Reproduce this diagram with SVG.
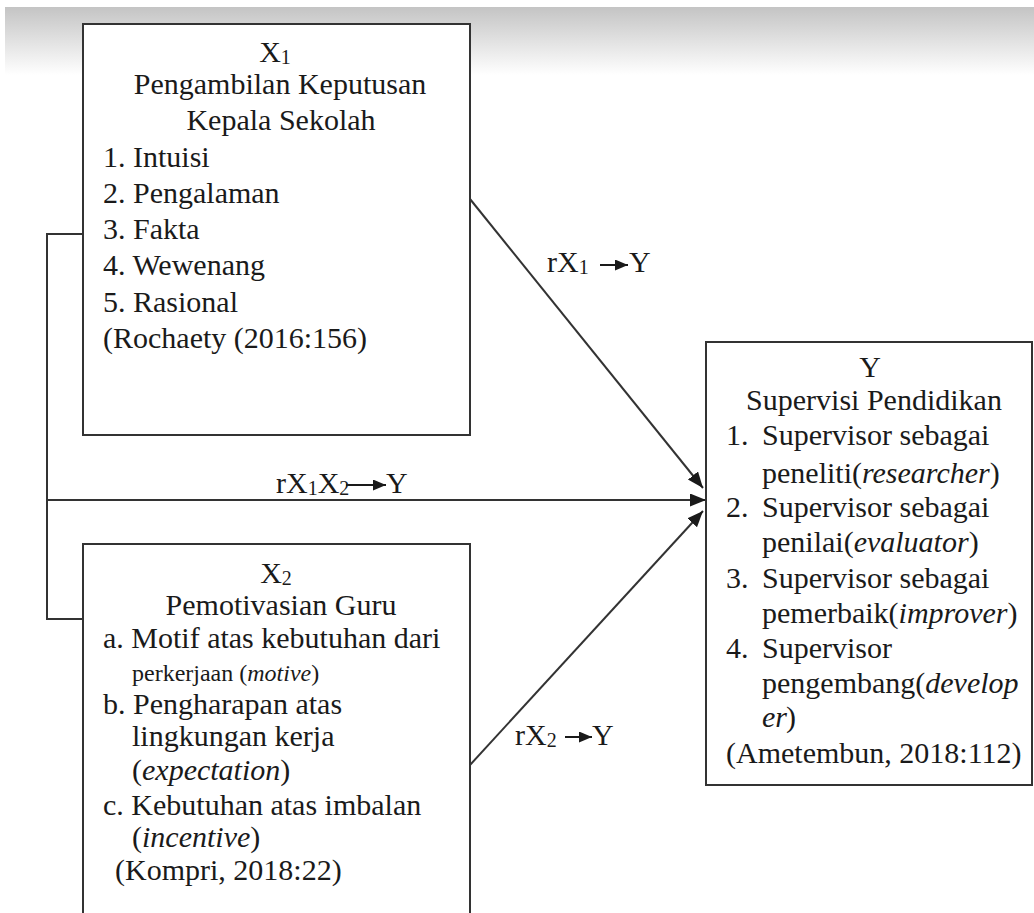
<svg xmlns="http://www.w3.org/2000/svg" width="1034" height="913" viewBox="0 0 1034 913">
<defs>
<linearGradient id="topfade" x1="0" y1="0" x2="0" y2="1">
<stop offset="0" stop-color="#c4c4c4"/>
<stop offset="1" stop-color="#ffffff"/>
</linearGradient>
<marker id="head" markerUnits="userSpaceOnUse" markerWidth="18" markerHeight="14" refX="16" refY="6.5" orient="auto">
<path d="M0,0 L16,6.5 L0,13 z" fill="#1a1a1a"/>
</marker>
<marker id="shead" markerUnits="userSpaceOnUse" markerWidth="14" markerHeight="12" refX="13" refY="5.5" orient="auto">
<path d="M0,0 L13,5.5 L0,11 z" fill="#1a1a1a"/>
</marker>
<style>
.box{fill:#fff;stroke:#333;stroke-width:2}
.t{font-family:'Liberation Serif','DejaVu Serif',serif;font-size:30px;fill:#1a1a1a}
.s{font-family:'Liberation Serif','DejaVu Serif',serif;font-size:24px;fill:#1a1a1a}
.c{text-anchor:middle}
.sub{font-size:20px}
.i{font-style:italic}
.ln{fill:none;stroke:#333;stroke-width:2}
.arr{fill:none;stroke:#333;stroke-width:2;marker-end:url(#head)}
.sarr{fill:none;stroke:#1a1a1a;stroke-width:2;marker-end:url(#shead)}
</style>
</defs>
<rect x="0" y="0" width="1034" height="913" fill="#fff"/>
<rect x="5" y="7" width="1029" height="68" fill="url(#topfade)"/>

<g id="connectors">
<polyline class="ln" points="83,234 47,234 47,619 83,619"/>
<line class="arr" x1="47" y1="500" x2="706" y2="500"/>
<line class="arr" x1="470" y1="199" x2="703" y2="488"/>
<line class="arr" x1="470" y1="765" x2="703" y2="511"/>
</g>

<g font-family="Liberation Serif, DejaVu Serif, serif">
<g id="label-x1y">
<text class="t" x="547" y="272">rX<tspan class="sub" dy="2">1</tspan></text>
<line class="sarr" x1="600" y1="265" x2="628" y2="265"/>
<text class="t" x="629" y="272">Y</text>
</g>
<g id="label-x1x2y">
<text class="t" x="276" y="493">rX<tspan class="sub" dy="2">1</tspan><tspan dy="-2">X</tspan><tspan class="sub" dy="2">2</tspan></text>
<line class="sarr" x1="346" y1="485" x2="386" y2="485"/>
<text class="t" x="386" y="493">Y</text>
</g>
<g id="label-x2y">
<text class="t" x="515" y="745">rX<tspan class="sub" dy="2">2</tspan></text>
<line class="sarr" x1="565" y1="737" x2="592" y2="737"/>
<text class="t" x="592" y="745">Y</text>
</g>

<g id="node-x1">
<rect class="box" x="83" y="24" width="387" height="411"/>
<text class="t c" x="275" y="62">X<tspan class="sub" dy="2">1</tspan></text>
<text class="t c" x="280" y="94">Pengambilan Keputusan</text>
<text class="t c" x="281" y="130">Kepala Sekolah</text>
<text class="t" x="103" y="167">1. Intuisi</text>
<text class="t" x="103" y="203">2. Pengalaman</text>
<text class="t" x="103" y="239">3. Fakta</text>
<text class="t" x="103" y="275">4. Wewenang</text>
<text class="t" x="103" y="312">5. Rasional</text>
<text class="t" x="103" y="348">(Rochaety (2016:156)</text>
</g>

<g id="node-x2">
<rect class="box" x="83" y="544" width="387" height="400"/>
<text class="t c" x="276" y="583">X<tspan class="sub" dy="2">2</tspan></text>
<text class="t c" x="281" y="615">Pemotivasian Guru</text>
<text class="t" x="103" y="648">a. Motif atas kebutuhan dari</text>
<text class="s" x="132" y="681">perkerjaan (<tspan class="i">motive</tspan>)</text>
<text class="t" x="103" y="714">b. Pengharapan atas</text>
<text class="t" x="132" y="746">lingkungan kerja</text>
<text class="t" x="132" y="780">(<tspan class="i">expectation</tspan>)</text>
<text class="t" x="103" y="815">c. Kebutuhan atas imbalan</text>
<text class="t" x="132" y="847">(<tspan class="i">incentive</tspan>)</text>
<text class="t" x="115" y="880">(Kompri, 2018:22)</text>
</g>

<g id="node-y">
<rect class="box" x="706" y="342" width="326" height="443"/>
<text class="t c" x="870" y="377">Y</text>
<text class="t c" x="874" y="410">Supervisi Pendidikan</text>
<text class="t" x="726" y="445">1.</text>
<text class="t" x="762" y="445">Supervisor sebagai</text>
<text class="t" x="762" y="483">peneliti(<tspan class="i">researcher</tspan>)</text>
<text class="t" x="726" y="517">2.</text>
<text class="t" x="762" y="517">Supervisor sebagai</text>
<text class="t" x="762" y="552">penilai(<tspan class="i">evaluator</tspan>)</text>
<text class="t" x="726" y="588">3.</text>
<text class="t" x="762" y="588">Supervisor sebagai</text>
<text class="t" x="762" y="623">pemerbaik(<tspan class="i">improver</tspan>)</text>
<text class="t" x="726" y="658">4.</text>
<text class="t" x="762" y="658">Supervisor</text>
<text class="t" x="762" y="693">pengembang(<tspan class="i">develop</tspan></text>
<text class="t i" x="762" y="727">er</text><text class="t" x="786" y="727">)</text>
<text class="t" x="726" y="763">(Ametembun, 2018:112)</text>
</g>
</g>
</svg>
